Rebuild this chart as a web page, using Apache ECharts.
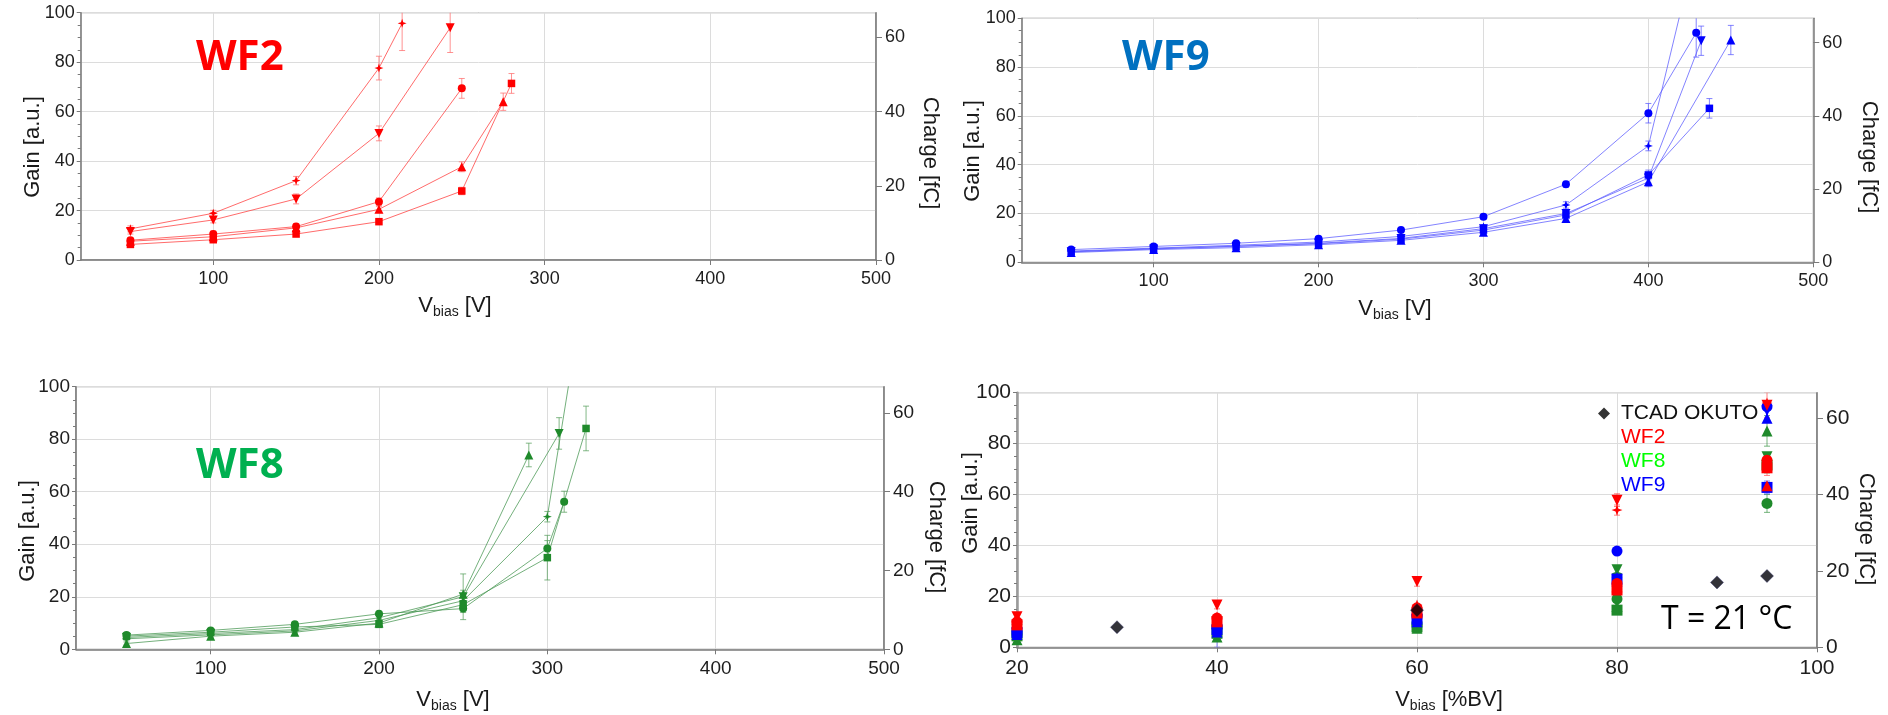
<!DOCTYPE html>
<html>
<head>
<meta charset="utf-8">
<script src="https://cdn.jsdelivr.net/npm/echarts@6.0.0/dist/echarts.min.js"></script>
<style>
  html, body { margin: 0; padding: 0; background: #fff; }
  #chart { width: 1888px; height: 715px; }
</style>
</head>
<body>
<div id="chart"></div>
<script>
// ---- Gain vs. bias voltage, one row per point: [Vbias (V), gain (a.u.), error] ----
const WF2_STAR   = [[50, 12.6, 1.2], [100, 18.9, 1.2], [150, 32.1, 1.7], [200, 77.6, 4.8], [214, 95.7, 11]];
const WF2_DOWN   = [[50, 11.5, 1.0], [100, 16.2, 1.2], [150, 24.7, 2.0], [200, 51.2, 3.0], [243, 93.9, 10]];
const WF2_CIRCLE = [[50, 8.0, 1.0], [100, 10.5, 1.2], [150, 13.5, 1.2], [200, 23.6, 1.5], [250, 69.4, 4.0]];
const WF2_UP     = [[50, 7.6, 0.8], [100, 9.4, 1.0], [150, 13.0, 1.0], [200, 20.5, 1.2], [250, 37.7, 2.0], [275, 64.0, 3.5]];
const WF2_SQUARE = [[50, 6.3, 0.8], [100, 8.2, 0.8], [150, 10.5, 0.8], [200, 15.5, 0.8], [250, 27.9, 1.5], [280, 71.4, 4.0]];

const WF9_CIRCLE = [[50, 5.2, 0.8], [100, 6.5, 0.8], [150, 7.8, 0.8], [200, 9.7, 0.8], [250, 13.2, 1.0], [300, 18.7, 1.0], [350, 32.0, 1.2], [400, 61.1, 4.0], [429, 94.1, 10]];
const WF9_STAR   = [[50, 4.6, 0.6], [100, 5.8, 0.6], [150, 7.0, 0.6], [200, 8.3, 0.6], [250, 10.6, 0.6], [300, 14.6, 0.8], [350, 23.5, 1.3], [400, 47.7, 2.0], [425, 118, 0]];
const WF9_DOWN   = [[50, 4.3, 0.6], [100, 5.5, 0.6], [150, 6.5, 0.6], [200, 7.8, 0.6], [250, 9.8, 0.6], [300, 13.8, 0.8], [350, 20.0, 1.0], [400, 34.5, 2.0], [432, 90.8, 6.0]];
const WF9_UP     = [[50, 4.0, 0.6], [100, 5.2, 0.6], [150, 6.0, 0.6], [200, 7.2, 0.6], [250, 9.0, 0.6], [300, 12.3, 0.8], [350, 18.0, 1.0], [400, 33.0, 2.0], [450, 91.1, 6.0]];
const WF9_SQUARE = [[50, 4.4, 0.6], [100, 5.6, 0.6], [150, 6.6, 0.6], [200, 7.6, 0.6], [250, 9.5, 0.6], [300, 13.2, 0.8], [350, 19.4, 1.0], [400, 35.8, 2.0], [437, 63.1, 4.0]];

const WF8_UP     = [[50, 2.2, 0.6], [100, 5.0, 0.6], [150, 6.5, 0.6], [200, 10.0, 0.8], [250, 21.0, 1.5], [289, 74.0, 4.5]];
const WF8_DOWN   = [[50, 4.5, 0.6], [100, 6.0, 0.6], [150, 7.5, 0.6], [200, 12.0, 0.8], [250, 20.0, 8.7], [307, 82.2, 6.0]];
const WF8_STAR   = [[50, 4.0, 0.6], [100, 5.5, 0.6], [150, 7.0, 0.6], [200, 11.0, 0.8], [250, 18.5, 1.5], [300, 50.5, 2.0], [315, 110, 0]];
const WF8_CIRCLE = [[50, 5.4, 0.6], [100, 7.2, 0.6], [150, 9.5, 0.8], [200, 13.5, 0.8], [250, 15.5, 1.5], [300, 38.4, 3.0], [310, 56.2, 4.0]];
const WF8_SQUARE = [[50, 5.0, 0.6], [100, 6.5, 0.6], [150, 8.5, 0.6], [200, 9.5, 0.8], [250, 17.0, 1.5], [300, 34.9, 8.5], [323, 84.1, 8.5]];

// ---- Gain vs. bias as a fraction of breakdown voltage ----
const BV_PCT = [20, 40, 60, 80, 95];
const WF2_BV = { down: [12.0, 16.6, 25.8, 57.8, 95.1], star: [11.0, 12.0, 16.6, 53.9, 96.0], circle: [10.0, 11.5, 15.5, 25.1, 73.5], up: [9.3, 10.5, 14.5, 23.8, 63.5], square: [8.8, 10.0, 13.5, 22.5, 70.5] };
const WF8_BV = { down: [7.0, 10.0, 10.0, 30.5, 74.8], star: [6.5, 9.5, 9.5, 29.0, 72.5], circle: [5.0, 8.0, 8.5, 19.0, 56.5], up: [3.0, 4.0, 7.5, 16.0, 85.0], square: [4.5, 5.5, 8.0, 14.6, 71.6] };
const WF9_BV = { circle: [6.1, 7.5, 12.7, 37.8, 94.5], down: [5.5, 6.5, 10.7, 26.7, 93.0], up: [5.0, 6.0, 10.0, 26.0, 90.0], square: [5.8, 7.0, 11.0, 26.7, 62.8], star: [5.5, 6.0, 11.5, 27.5, null] };
// [%BV, gain, error]
const WF2_BV_ERR = [[20, 12.0, 1.5], [40, 16.6, 1.5], [60, 25.8, 1.8], [80, 57.8, 2.5], [80, 53.9, 2.0], [95, 95.1, 5.0], [95, 70.5, 3.0]];
const WF8_BV_ERR = [[20, 4.5, 2.5], [80, 29.0, 2.0], [95, 85.0, 6.0], [95, 72.5, 4.0], [95, 56.5, 3.5]];
const WF9_BV_ERR = [[20, 5.5, 1.0], [40, 6.0, 6.0], [60, 10.7, 1.0], [95, 62.8, 2.5]];
const TCAD_OKUTO = [[30, 7.9], [60, 14.6], [90, 25.5], [95, 28.0]];

// ---- Axis ticks ----
const GAIN_TICKS = [0, 20, 40, 60, 80, 100];
const CHARGE_TICKS = [0, 20, 40, 60];
const CHARGE_PER_GAIN = 2 / 3;

const SHAPE = {
  circle: 'circle',
  square: 'rect',
  up: 'triangle',
  down: 'path://M0,0L10,0L5,8.7Z',
  star: 'path://M0,-10L2.6,-2.6L10,0L2.6,2.6L0,10L-2.6,2.6L-10,0L-2.6,-2.6Z'
};
const SHAPE_KEYS = ['circle', 'square', 'up', 'down', 'star'];
const SIZE = { circle: 8, square: 7.5, up: 9, down: 9, star: 9 };

const FONT = 'Liberation Sans, Arial, sans-serif';
const AXIS_COLOR = '#7a7a7a';
const GRID_LINE = '#dcdcdc';
const LABEL_COLOR = '#1e1e1e';

const PANELS = [
  { grid: { left: 80.7, top: 12.7, width: 795.3, height: 247.3 }, xRange: [20, 500], fs: 18,
    mark: '#ff0000', line: 'rgba(255,70,70,0.8)', err: 'rgba(255,110,110,0.75)',
    sets: [['star', WF2_STAR], ['down', WF2_DOWN], ['circle', WF2_CIRCLE], ['up', WF2_UP], ['square', WF2_SQUARE]] },
  { grid: { left: 1021.7, top: 18.3, width: 791.6, height: 244 }, xRange: [20, 500], fs: 18,
    mark: '#0000ff', line: 'rgba(90,90,255,0.75)', err: 'rgba(90,90,255,0.75)',
    sets: [['circle', WF9_CIRCLE], ['star', WF9_STAR], ['down', WF9_DOWN], ['up', WF9_UP], ['square', WF9_SQUARE]] },
  { grid: { left: 76, top: 386.7, width: 808, height: 262.6 }, xRange: [20, 500], fs: 19,
    mark: '#1f8a2b', line: 'rgba(70,150,80,0.75)', err: 'rgba(90,160,95,0.75)',
    sets: [['up', WF8_UP], ['down', WF8_DOWN], ['star', WF8_STAR], ['circle', WF8_CIRCLE], ['square', WF8_SQUARE]] },
  { grid: { left: 1017, top: 392.7, width: 800, height: 254.6 }, xRange: [20, 100], fs: 21 }
];

function errBar(color, cap) {
  return function (params, api) {
    const x = api.value(0), y = api.value(1), e = api.value(2);
    const hi = api.coord([x, y + e]);
    const lo = api.coord([x, y - e]);
    const st = { stroke: color, lineWidth: 1 };
    return {
      type: 'group',
      children: [
        { type: 'line', shape: { x1: hi[0], y1: hi[1], x2: lo[0], y2: lo[1] }, style: st },
        { type: 'line', shape: { x1: hi[0] - cap, y1: hi[1], x2: hi[0] + cap, y2: hi[1] }, style: st },
        { type: 'line', shape: { x1: lo[0] - cap, y1: lo[1], x2: lo[0] + cap, y2: lo[1] }, style: st }
      ]
    };
  };
}

const grids = [], xAxes = [], yAxes = [], series = [];

PANELS.forEach((p, i) => {
  grids.push(Object.assign({ show: true, borderColor: AXIS_COLOR, borderWidth: 1, backgroundColor: 'transparent' }, p.grid));
  const isBV = i === 3;
  xAxes.push({
    gridIndex: i, type: 'value', min: p.xRange[0], max: p.xRange[1],
    interval: isBV ? 20 : undefined,
    axisLine: { show: true, onZero: false, lineStyle: { color: AXIS_COLOR, width: 1.5 } },
    axisTick: { show: true, inside: false, length: 5, lineStyle: { color: AXIS_COLOR } },
    axisLabel: { color: LABEL_COLOR, fontFamily: FONT, fontSize: p.fs, margin: 10, showMinLabel: isBV },
    splitLine: { show: true, lineStyle: { color: GRID_LINE, width: 1 } }
  });
  yAxes.push({
    gridIndex: i, type: 'value', position: 'left', min: 0, max: 100, interval: 20,
    axisLine: { show: true, lineStyle: { color: isBV ? '#9a9a9a' : AXIS_COLOR, width: isBV ? 2.5 : 1.5 } },
    axisTick: { show: true, inside: false, length: 4, lineStyle: { color: AXIS_COLOR } },
    minorTick: { show: true, splitNumber: 4, length: 3, lineStyle: { color: AXIS_COLOR } },
    axisLabel: { color: LABEL_COLOR, fontFamily: FONT, fontSize: p.fs, margin: 6 },
    splitLine: { show: true, lineStyle: { color: GRID_LINE, width: 1 } }
  });
  yAxes.push({
    gridIndex: i, type: 'value', position: 'right', min: 0, max: 100 * CHARGE_PER_GAIN,
    axisLine: { show: true, lineStyle: { color: AXIS_COLOR, width: 1.5 } },
    axisTick: { show: true, inside: false, length: 6, customValues: CHARGE_TICKS, lineStyle: { color: AXIS_COLOR } },
    axisLabel: { color: LABEL_COLOR, fontFamily: FONT, fontSize: p.fs, margin: 9, customValues: CHARGE_TICKS },
    splitLine: { show: false }
  });

  if (!isBV) {
    p.sets.forEach(([shape, rows]) => {
      series.push({
        type: 'custom', xAxisIndex: i, yAxisIndex: 2 * i, clip: true, silent: true, z: 2,
        data: rows.filter(r => r[2] > 0),
        encode: { x: 0, y: 1 },
        renderItem: errBar(p.err, 3)
      });
      series.push({
        type: 'line', xAxisIndex: i, yAxisIndex: 2 * i, clip: true, z: 3,
        data: rows.map(r => [r[0], r[1]]),
        symbol: SHAPE[shape], symbolSize: SIZE[shape], showAllSymbol: true,
        itemStyle: { color: p.mark, opacity: 1 },
        lineStyle: { color: p.line, width: 1 }
      });
    });
  }
});

// %BV panel: one scatter series per wafer, marker shape carried as the third value
function bvPoints(table) {
  const out = [];
  SHAPE_KEYS.forEach((k, si) => {
    const vals = table[k];
    if (!vals) return;
    BV_PCT.forEach((pct, j) => { if (vals[j] != null) out.push([pct, vals[j], si]); });
  });
  return out;
}
const BV_WAFERS = [
  { name: 'WF8', table: WF8_BV, errs: WF8_BV_ERR, color: '#1f8a2b', err: 'rgba(60,150,70,0.7)' },
  { name: 'WF9', table: WF9_BV, errs: WF9_BV_ERR, color: '#0000ff', err: 'rgba(80,80,255,0.7)' },
  { name: 'WF2', table: WF2_BV, errs: WF2_BV_ERR, color: '#ff0000', err: 'rgba(255,80,80,0.7)' }
];
BV_WAFERS.forEach(w => {
  series.push({
    type: 'custom', xAxisIndex: 3, yAxisIndex: 6, clip: true, silent: true, z: 2,
    data: w.errs, encode: { x: 0, y: 1 }, renderItem: errBar(w.err, 3)
  });
  series.push({
    type: 'scatter', name: w.name, xAxisIndex: 3, yAxisIndex: 6, z: 3,
    data: bvPoints(w.table),
    symbol: v => SHAPE[SHAPE_KEYS[v[2]]], symbolSize: 11,
    itemStyle: { color: w.color, opacity: 1 }
  });
});
series.push({
  type: 'scatter', name: 'TCAD OKUTO', xAxisIndex: 3, yAxisIndex: 6, z: 4,
  data: TCAD_OKUTO, symbol: 'diamond', symbolSize: 13,
  itemStyle: { color: '#000008', borderColor: '#202060', borderWidth: 0.5 }
});

function subLabel(x, y, unit) {
  return {
    type: 'text', x: x, y: y, z: 10,
    style: {
      text: '{v|V}{s|bias}{v| ' + unit + '}', align: 'center', verticalAlign: 'middle', fill: '#1a1a1a',
      rich: {
        v: { fontFamily: FONT, fontSize: 22, lineHeight: 26, fill: '#1a1a1a' },
        s: { fontFamily: FONT, fontSize: 14, lineHeight: 14, verticalAlign: 'bottom', fill: '#1a1a1a' }
      }
    }
  };
}
function vText(x, y, text, up) {
  return {
    type: 'text', x: x, y: y, rotation: up ? Math.PI / 2 : -Math.PI / 2, z: 10,
    style: { text: text, font: '22px ' + FONT, fill: '#1a1a1a', align: 'center', verticalAlign: 'middle' }
  };
}
function title(x, y, text, color) {
  return {
    type: 'text', x: x, y: y, z: 10,
    style: { text: text, font: 'bold 42px "Open Sans", sans-serif', fill: color, align: 'left', verticalAlign: 'middle' }
  };
}

const graphics = [
  title(196, 58, 'WF2', '#ff0000'),
  title(1122, 58, 'WF9', '#0070c0'),
  title(196, 466, 'WF8', '#00b050'),
  vText(33, 147, 'Gain [a.u.]', true),
  vText(930, 153, 'Charge [fC]', false),
  subLabel(455, 306, '[V]'),
  vText(973, 151, 'Gain [a.u.]', true),
  vText(1869, 157, 'Charge [fC]', false),
  subLabel(1395, 309, '[V]'),
  vText(28, 531, 'Gain [a.u.]', true),
  vText(936, 537, 'Charge [fC]', false),
  subLabel(453, 700, '[V]'),
  vText(971, 503, 'Gain [a.u.]', true),
  vText(1866, 529, 'Charge [fC]', false),
  subLabel(1449, 700, '[%BV]'),
  {
    type: 'text', x: 1661, y: 620, z: 10,
    style: { text: 'T = 21 °C', font: '32px "Open Sans", sans-serif', fill: '#000', align: 'left', verticalAlign: 'middle' }
  }
];

const chart = echarts.init(document.getElementById('chart'), null, { renderer: 'canvas' });
chart.setOption({
  animation: false,
  backgroundColor: '#ffffff',
  grid: grids,
  xAxis: xAxes,
  yAxis: yAxes,
  legend: {
    orient: 'vertical', left: 1593, top: 397, itemWidth: 12, itemHeight: 12, itemGap: 1,
    selectedMode: false,
    textStyle: { fontFamily: FONT, fontSize: 21, lineHeight: 23, padding: [0, 0, 0, 6] },
    data: [
      { name: 'TCAD OKUTO', icon: 'diamond', itemStyle: { color: '#000000', borderWidth: 0 }, textStyle: { color: '#111111' } },
      { name: 'WF2', itemStyle: { opacity: 0 }, textStyle: { color: '#ff0000' } },
      { name: 'WF8', itemStyle: { opacity: 0 }, textStyle: { color: '#00ff00' } },
      { name: 'WF9', itemStyle: { opacity: 0 }, textStyle: { color: '#0000ff' } }
    ]
  },
  graphic: graphics,
  series: series
});
</script>
</body>
</html>
